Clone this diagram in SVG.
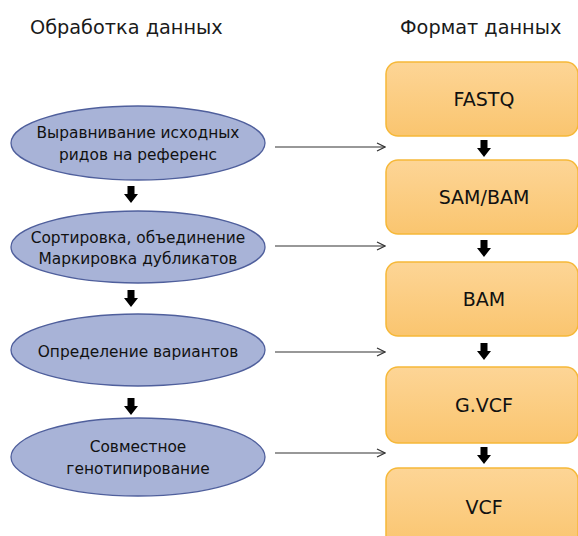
<svg xmlns="http://www.w3.org/2000/svg" width="578" height="536" viewBox="0 0 578 536">
<defs>
<linearGradient id="og" x1="0" y1="0" x2="0" y2="1">
<stop offset="0" stop-color="#fdd596"/>
<stop offset="1" stop-color="#fac56f"/>
</linearGradient>
<marker id="ah" viewBox="0 0 10 10" refX="9" refY="5" markerWidth="10" markerHeight="10" markerUnits="userSpaceOnUse" orient="auto">
<path d="M1,1 L9,5 L1,9" fill="none" stroke="#333" stroke-width="1.2"/>
</marker>
<path id="blk" d="M-3.5,0 H3.5 V8 H7 L0,17 L-7,8 H-3.5 Z" fill="#000"/>
</defs>
<style>
.title{font-family:"DejaVu Sans","Liberation Sans",sans-serif;font-size:19.3px;fill:#1a1a1a}
.el{fill:#a8b3d7;stroke:#4f5f9c;stroke-width:1.3}
.et{font-family:"DejaVu Sans","Liberation Sans",sans-serif;font-size:15.4px;fill:#111;text-anchor:middle}
.bx{fill:url(#og);stroke:#f6b838;stroke-width:1.5}
.bt{font-family:"DejaVu Sans","Liberation Sans",sans-serif;font-size:19px;fill:#111;text-anchor:middle}
.cn{stroke:#333;stroke-width:1.2;fill:none}
</style>
<rect width="578" height="536" fill="#fff"/>
<text class="title" x="30" y="34">Обработка данных</text>
<text class="title" x="400" y="34">Формат данных</text>

<g id="n1"><ellipse class="el" cx="138" cy="143" rx="127" ry="37"/>
<text class="et" x="138" y="138">Выравнивание исходных</text>
<text class="et" x="138" y="160">ридов на референс</text></g>
<g id="n2"><ellipse class="el" cx="138" cy="247" rx="127" ry="36"/>
<text class="et" x="138" y="243">Сортировка, объединение</text>
<text class="et" x="138" y="264">Маркировка дубликатов</text></g>
<g id="n3"><ellipse class="el" cx="138" cy="350" rx="127" ry="36"/>
<text class="et" x="138" y="357">Определение вариантов</text></g>
<g id="n4"><ellipse class="el" cx="138" cy="457" rx="127" ry="39"/>
<text class="et" x="138" y="452">Совместное</text>
<text class="et" x="138" y="474">генотипирование</text></g>

<g id="b1"><rect class="bx" x="386" y="62" width="192" height="74" rx="12"/><text class="bt" x="484" y="106">FASTQ</text></g>
<g id="b2"><rect class="bx" x="386" y="160" width="192" height="74" rx="12"/><text class="bt" x="484" y="204">SAM/BAM</text></g>
<g id="b3"><rect class="bx" x="386" y="262" width="192" height="74" rx="12"/><text class="bt" x="484" y="306">BAM</text></g>
<g id="b4"><rect class="bx" x="386" y="367" width="192" height="76" rx="12"/><text class="bt" x="484" y="412">G.VCF</text></g>
<g id="b5"><rect class="bx" x="386" y="468" width="192" height="80" rx="12"/><text class="bt" x="484" y="514">VCF</text></g>

<g id="connectors">
<line class="cn" x1="275" y1="147" x2="385" y2="147" marker-end="url(#ah)"/>
<line class="cn" x1="275" y1="246" x2="385" y2="246" marker-end="url(#ah)"/>
<line class="cn" x1="275" y1="352" x2="385" y2="352" marker-end="url(#ah)"/>
<line class="cn" x1="275" y1="453" x2="385" y2="453" marker-end="url(#ah)"/>
<use href="#blk" x="131" y="186"/>
<use href="#blk" x="131" y="290"/>
<use href="#blk" x="131" y="398"/>
<use href="#blk" x="484" y="140"/>
<use href="#blk" x="484" y="240"/>
<use href="#blk" x="484" y="343"/>
<use href="#blk" x="484" y="447"/>
</g>
</svg>
